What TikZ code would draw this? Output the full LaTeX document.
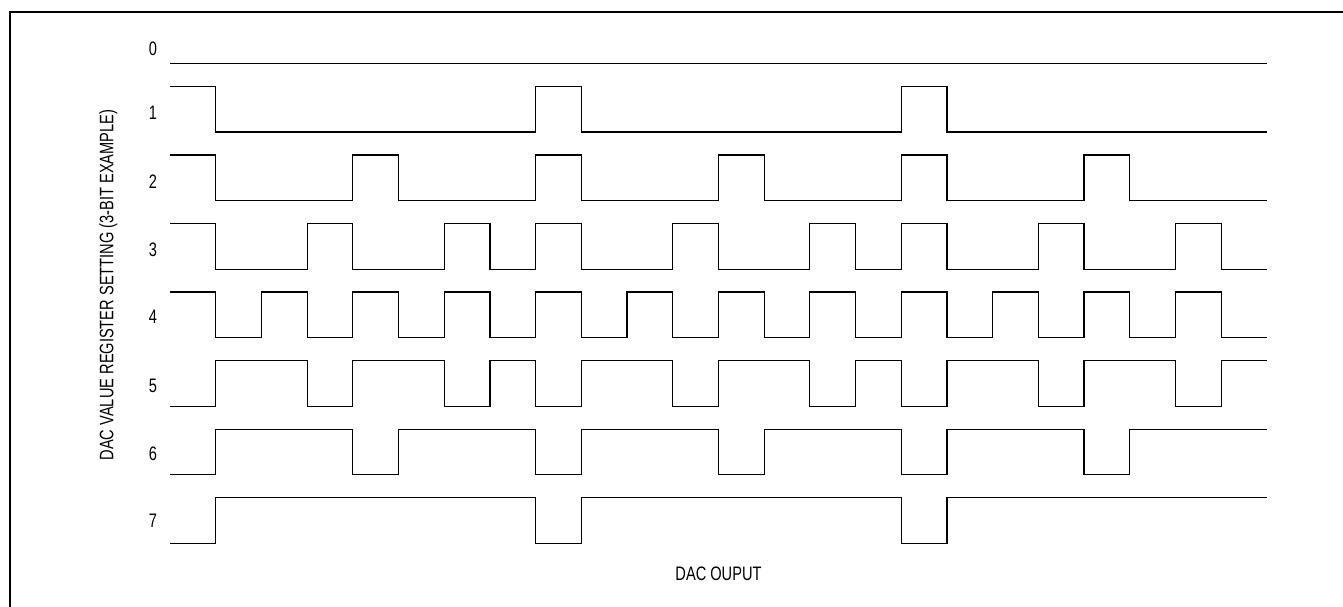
\documentclass[tikz,border=0pt]{standalone}
\usepackage{fontspec}
\setmainfont{Liberation Sans}[FakeStretch=0.75]
\usepackage{tikz}

\begin{document}
\begin{tikzpicture}[x=1pt,y=-1pt,
    wave/.style={line width=1.2pt, line join=miter},
    lbl/.style={anchor=base, inner sep=0pt, font=\fontsize{19.5}{22}\selectfont}]
  \useasboundingbox (0,0) rectangle (1343,607);

  % Draw the frame
  \draw[line width=2pt] (10,620) -- (10,12.3) -- (1350,12.3);

  % Label the register settings
  \node[lbl] (set0) at (153,56) {0};
  \node[lbl] (set1) at (153,120) {1};
  \node[lbl] (set2) at (153,188) {2};
  \node[lbl] (set3) at (153,256.5) {3};
  \node[lbl] (set4) at (153,323) {4};
  \node[lbl] (set5) at (153,392) {5};
  \node[lbl] (set6) at (153,460) {6};
  \node[lbl] (set7) at (153,527) {7};

  % Axis titles
  \node[lbl, rotate=90] (ytitle) at (113.3,285) {DAC VALUE REGISTER SETTING (3-BIT EXAMPLE)};
  \node[lbl] (xtitle) at (718.5,580.7) {DAC OUPUT};

  % Draw the waveforms, one slot per unit, rows 1.5 apart
  \begin{scope}[shift={(170,63.5)}, x=45.7pt, y=45.7pt]
    \draw[wave] (0,0) -- (24,0);
    \draw[wave, shift={(0,-1.5)}] (0,1) -| (1,0) -| (8,1) -| (9,0) -| (16,1) -| (17,0) -- (24,0);
    \draw[wave, shift={(0,-3)}] (0,1) -| (1,0) -| (4,1) -| (5,0) -| (8,1) -| (9,0) -| (12,1) -| (13,0)
      -| (16,1) -| (17,0) -| (20,1) -| (21,0) -- (24,0);
    \draw[wave, shift={(0,-4.5)}] (0,1) -| (1,0) -| (3,1) -| (4,0) -| (6,1) -| (7,0) -| (8,1) -| (9,0)
      -| (11,1) -| (12,0) -| (14,1) -| (15,0) -| (16,1) -| (17,0) -| (19,1) -| (20,0)
      -| (22,1) -| (23,0) -- (24,0);
    \draw[wave, shift={(0,-6)}] (0,1) -| (1,0) -| (2,1) -| (3,0) -| (4,1) -| (5,0) -| (6,1) -| (7,0)
      -| (8,1) -| (9,0) -| (10,1) -| (11,0) -| (12,1) -| (13,0) -| (14,1) -| (15,0)
      -| (16,1) -| (17,0) -| (18,1) -| (19,0) -| (20,1) -| (21,0) -| (22,1) -| (23,0) -- (24,0);
    \draw[wave, shift={(0,-7.5)}] (0,0) -| (1,1) -| (3,0) -| (4,1) -| (6,0) -| (7,1) -| (8,0) -| (9,1)
      -| (11,0) -| (12,1) -| (14,0) -| (15,1) -| (16,0) -| (17,1) -| (19,0) -| (20,1)
      -| (22,0) -| (23,1) -- (24,1);
    \draw[wave, shift={(0,-9)}] (0,0) -| (1,1) -| (4,0) -| (5,1) -| (8,0) -| (9,1) -| (12,0) -| (13,1)
      -| (16,0) -| (17,1) -| (20,0) -| (21,1) -- (24,1);
    \draw[wave, shift={(0,-10.5)}] (0,0) -| (1,1) -| (8,0) -| (9,1) -| (16,0) -| (17,1) -- (24,1);
  \end{scope}

\end{tikzpicture}
\end{document}
